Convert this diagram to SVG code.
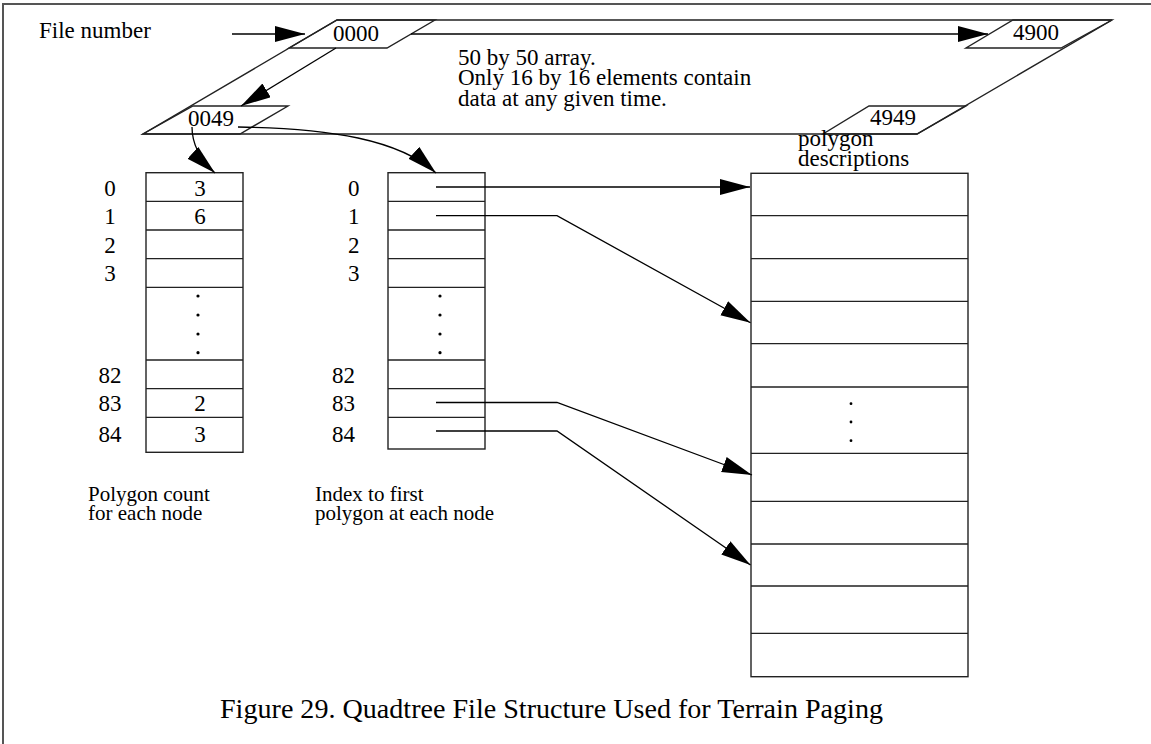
<svg xmlns="http://www.w3.org/2000/svg" width="1151" height="744" viewBox="0 0 1151 744">
<defs>
<marker id="ah" markerUnits="userSpaceOnUse" markerWidth="32" markerHeight="18" refX="30" refY="8" orient="auto">
<path d="M0,0 L30,8 L0,16 z" fill="#000"/>
</marker>
<style>
text{font-family:"Liberation Serif","Times New Roman",serif;fill:#000}
.t{font-size:23px}
.s{font-size:21px}
.cap{font-size:27px}
.box{fill:none;stroke:#222;stroke-width:1.4}
.ln{fill:none;stroke:#222;stroke-width:1.3}
.con{fill:none;stroke:#000;stroke-width:1.3}
.dot{fill:#000}
</style>
</defs>
<rect width="1151" height="744" fill="#fff"/>
<g id="frame">
<path d="M3,744 V4 H1151" fill="none" stroke="#555" stroke-width="2"/>
</g>
<g id="array">
<polygon class="box" points="337,20 1112,20 917,134 143,134"/>
<text class="t" x="458" y="65">50 by 50 array.</text>
<text class="t" x="458" y="85">Only 16 by 16 elements contain</text>
<text class="t" x="458" y="105.5">data at any given time.</text>
</g>
<g id="cell0000">
<polygon class="box" points="337,20 435,20 387,48 289,48"/>
<text class="t" x="333" y="41">0000</text>
</g>
<g id="cell4900">
<polygon class="box" points="1013,20 1112,20 1061,48 966,48"/>
<text class="t" x="1013" y="40">4900</text>
</g>
<g id="cell0049">
<polygon class="box" points="193,106 288,106 240,134 143,134"/>
<text class="t" x="188" y="126">0049</text>
</g>
<g id="cell4949">
<polygon class="box" points="869,106 966,106 917,134 823,134"/>
<text class="t" x="870" y="125">4949</text>
</g>
<g id="filenumber">
<text class="t" x="39" y="38">File number</text>
</g>
<g id="countTable">
<rect class="box" x="146" y="172.7" width="97" height="279.6"/>
<path class="ln" d="M146,201.3H243M146,230H243M146,258.7H243M146,287.3H243M146,360H243M146,388.7H243M146,417.3H243"/>
<g class="t" text-anchor="middle">
<text x="110" y="196">0</text>
<text x="110" y="224">1</text>
<text x="110" y="253">2</text>
<text x="110" y="281">3</text>
<text x="110" y="383">82</text>
<text x="110" y="411">83</text>
<text x="110" y="442">84</text>
<text x="200" y="196">3</text>
<text x="200" y="224">6</text>
<text x="200" y="411">2</text>
<text x="200" y="442">3</text>
</g>
<circle class="dot" cx="198" cy="296" r="1.6"/>
<circle class="dot" cx="198" cy="315" r="1.6"/>
<circle class="dot" cx="198" cy="334" r="1.6"/>
<circle class="dot" cx="198" cy="352.7" r="1.6"/>
<text class="s" x="88" y="501">Polygon count</text>
<text class="s" x="88" y="520">for each node</text>
</g>
<g id="indexTable">
<rect class="box" x="388" y="172.7" width="97" height="276.3"/>
<path class="ln" d="M388,201.3H485M388,230H485M388,258.7H485M388,287.3H485M388,360H485M388,388.7H485M388,417.3H485"/>
<g class="t">
<text x="348" y="196">0</text>
<text x="348" y="224">1</text>
<text x="348" y="253">2</text>
<text x="348" y="281">3</text>
<text x="332" y="383">82</text>
<text x="332" y="411">83</text>
<text x="332" y="442">84</text>
</g>
<circle class="dot" cx="440" cy="296" r="1.6"/>
<circle class="dot" cx="440" cy="315" r="1.6"/>
<circle class="dot" cx="440" cy="334" r="1.6"/>
<circle class="dot" cx="440" cy="352.7" r="1.6"/>
<text class="s" x="315" y="501">Index to first</text>
<text class="s" x="315" y="520">polygon at each node</text>
</g>
<g id="polygonTable">
<text class="t" x="798" y="146">polygon</text>
<text class="t" x="798" y="165.5">descriptions</text>
<rect class="box" x="751" y="173.3" width="217" height="503.4"/>
<path class="ln" d="M751,215.7H968M751,258.7H968M751,301.3H968M751,343.7H968M751,387H968M751,453.3H968M751,501.3H968M751,544H968M751,586H968M751,633.3H968"/>
<circle class="dot" cx="851" cy="403.7" r="1.4"/>
<circle class="dot" cx="851" cy="422" r="1.4"/>
<circle class="dot" cx="851" cy="440.7" r="1.4"/>
</g>
<g id="connectors">
<path class="con" d="M232,34 H305" marker-end="url(#ah)"/>
<path class="con" d="M411,34 H988" marker-end="url(#ah)"/>
<path class="con" d="M336,48 L241,106" marker-end="url(#ah)"/>
<path class="con" d="M192,127 Q192,152 215,173" marker-end="url(#ah)"/>
<path class="con" d="M238,127 C330,128 400,140 436,173" marker-end="url(#ah)"/>
<path class="con" d="M436,187 H750" marker-end="url(#ah)"/>
<path class="con" d="M436,215.7 H557 L750.5,322.7" marker-end="url(#ah)"/>
<path class="con" d="M436,402.5 H557 L752,475" marker-end="url(#ah)"/>
<path class="con" d="M436,431 H557 L750.5,565" marker-end="url(#ah)"/>
</g>
<g id="caption">
<text class="cap" x="220" y="718" textLength="663" lengthAdjust="spacingAndGlyphs">Figure 29. Quadtree File Structure Used for Terrain Paging</text>
</g>
</svg>
